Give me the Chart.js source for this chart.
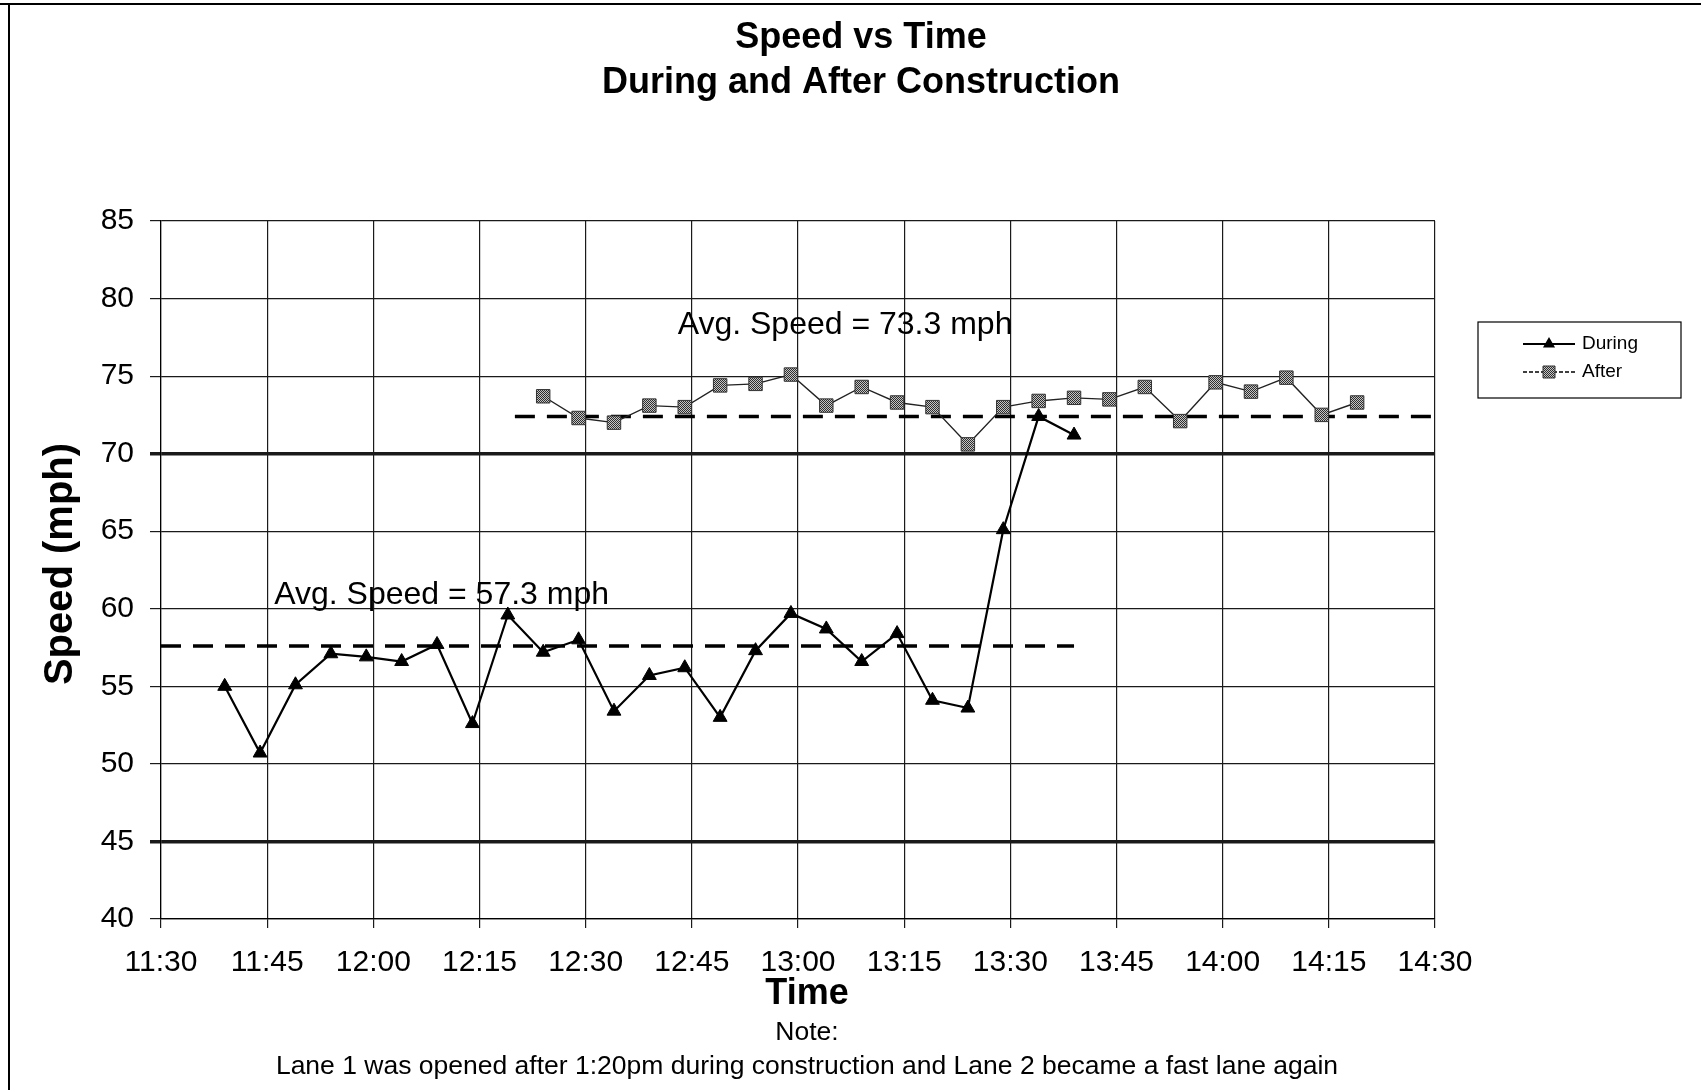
<!DOCTYPE html>
<html>
<head>
<meta charset="utf-8">
<title>Speed vs Time</title>
<script src="https://cdn.jsdelivr.net/npm/chart.js@4.4.1/dist/chart.umd.min.js"></script>
<style>
  html, body { margin: 0; padding: 0; background: #fff; }
  #wrap { width: 1701px; height: 1090px; }
</style>
</head>
<body>
<div id="wrap"><canvas id="speedChart" width="1701" height="1090"></canvas></div>
<script>
// Speeds (mph), one reading every 5 minutes
const duringTimes = ['11:39', '11:44', '11:49', '11:54', '11:59', '12:04', '12:09', '12:14', '12:19',
  '12:24', '12:29', '12:34', '12:39', '12:44', '12:49', '12:54', '12:59', '13:04', '13:09', '13:14',
  '13:19', '13:24', '13:29', '13:34', '13:39'];
const duringSpeeds = [55.0, 50.7, 55.1, 57.1, 56.9, 56.6, 57.7, 52.6, 59.6,
  57.2, 58.0, 53.4, 55.7, 56.2, 53.0, 57.3, 59.7, 58.7, 56.6, 58.4,
  54.1, 53.6, 65.1, 72.4, 71.2];

const afterTimes = ['12:24', '12:29', '12:34', '12:39', '12:44', '12:49', '12:54', '12:59', '13:04',
  '13:09', '13:14', '13:19', '13:24', '13:29', '13:34', '13:39', '13:44', '13:49', '13:54', '13:59',
  '14:04', '14:09', '14:14', '14:19'];
const afterSpeeds = [73.7, 72.3, 72.0, 73.1, 73.0, 74.4, 74.5, 75.1, 73.1,
  74.3, 73.3, 73.0, 70.6, 73.0, 73.4, 73.6, 73.5, 74.3, 72.1, 74.6,
  74.0, 74.9, 72.5, 73.3];

// dashed average lines (level as drawn) and their text
const avgDuring = 57.6;
const avgDuringSpan = ['11:30', '13:39'];
const avgAfter = 72.4;
const avgAfterSpan = ['12:20', '14:30'];
const avgLabels = ['Avg. Speed = 57.3 mph', 'Avg. Speed = 73.3 mph'];
const avgLabelTimes = ['11:46', '12:43'];
const avgLabelSpeeds = [60.9, 78.3];

// axes
const timeRange = ['11:30', '14:30'];
const timeStep = 15;
const speedRange = [40, 85];
const speedStep = 5;
const heavyLines = [70, 45];

const titleLines = ['Speed vs Time', 'During and After Construction'];
const xTitle = 'Time';
const yTitle = 'Speed (mph)';
const noteLines = ['Note:', 'Lane 1 was opened after 1:20pm during construction and Lane 2 became a fast lane again'];

const FONT = "'Liberation Sans', Arial, Helvetica, sans-serif";

function toMin(s) {
  const [h, m] = s.split(':').map(Number);
  return h * 60 + m;
}
function fmtTime(v) {
  return Math.floor(v / 60) + ':' + String(v % 60).padStart(2, '0');
}
function pairs(times, speeds) {
  return times.map((t, i) => ({ x: toMin(t), y: speeds[i] }));
}

// grey dithered fill like the scanned square markers
function ditherFill() {
  const c = document.createElement('canvas');
  c.width = 2; c.height = 2;
  const g = c.getContext('2d');
  g.fillStyle = '#c4c4c4'; g.fillRect(0, 0, 2, 2);
  g.fillStyle = '#2e2e2e'; g.fillRect(0, 0, 1, 1); g.fillRect(1, 1, 1, 1);
  return g.createPattern(c, 'repeat');
}
const squareFill = ditherFill();

// title, axis titles, notes, avg texts, frame
const textPlugin = {
  id: 'texts',
  afterDraw(chart) {
    const ctx = chart.ctx;
    const { x, y } = chart.scales;
    const area = chart.chartArea;
    ctx.save();
    ctx.fillStyle = '#000';

    // frame of the chart object (top + left edges survive in the scan)
    ctx.strokeStyle = '#000';
    ctx.lineWidth = 2;
    ctx.beginPath();
    ctx.moveTo(0, 4); ctx.lineTo(chart.width, 4);
    ctx.moveTo(9, 4); ctx.lineTo(9, chart.height);
    ctx.stroke();

    ctx.textAlign = 'center';
    ctx.textBaseline = 'middle';
    ctx.font = 'bold 36px ' + FONT;
    ctx.fillText(titleLines[0], 861, 38);
    ctx.fillText(titleLines[1], 861, 83);

    const cx = (area.left + area.right) / 2 + 9;
    ctx.fillText(xTitle, cx, 994);

    ctx.save();
    ctx.translate(61, 564);
    ctx.rotate(-Math.PI / 2);
    ctx.font = 'bold 40px ' + FONT;
    ctx.fillText(yTitle, 0, 0);
    ctx.restore();

    ctx.font = '26.5px ' + FONT;
    ctx.fillText(noteLines[0], cx, 1033);
    ctx.fillText(noteLines[1], cx, 1067);

    ctx.textAlign = 'left';
    ctx.font = '32px ' + FONT;
    avgLabels.forEach((txt, i) => {
      ctx.fillText(txt, x.getPixelForValue(toMin(avgLabelTimes[i])), y.getPixelForValue(avgLabelSpeeds[i]));
    });
    ctx.restore();
  }
};

// boxed legend to the right of the plot
const legendPlugin = {
  id: 'legendBox',
  afterDraw(chart) {
    const ctx = chart.ctx;
    const bx = 1478, by = 322, bw = 203, bh = 76;
    ctx.save();
    ctx.strokeStyle = '#000';
    ctx.lineWidth = 1.2;
    ctx.strokeRect(bx, by, bw, bh);
    ctx.font = '19px ' + FONT;
    ctx.textBaseline = 'middle';
    ctx.textAlign = 'left';
    ctx.fillStyle = '#000';

    const rows = [
      { ds: chart.data.datasets[0], yy: 344, dash: [] },
      { ds: chart.data.datasets[1], yy: 372, dash: [4, 2] }
    ];
    rows.forEach(r => {
      ctx.strokeStyle = '#000';
      ctx.lineWidth = r.ds.borderWidth;
      ctx.setLineDash(r.dash);
      ctx.beginPath();
      ctx.moveTo(1523, r.yy); ctx.lineTo(1575, r.yy);
      ctx.stroke();
      ctx.setLineDash([]);
      ctx.beginPath();
      if (r.ds.pointStyle === 'triangle') {
        const rr = 7;
        ctx.moveTo(1549, r.yy - rr);
        ctx.lineTo(1549 + rr * 0.866, r.yy + rr / 2);
        ctx.lineTo(1549 - rr * 0.866, r.yy + rr / 2);
        ctx.closePath();
        ctx.fillStyle = '#000';
        ctx.fill();
      } else {
        ctx.rect(1543, r.yy - 6, 12, 12);
        ctx.fillStyle = r.ds.pointBackgroundColor;
        ctx.fill();
        ctx.lineWidth = 1;
        ctx.strokeStyle = '#333';
        ctx.stroke();
      }
      ctx.fillStyle = '#000';
      ctx.fillText(r.ds.label, 1582, r.yy);
    });
    ctx.restore();
  }
};

new Chart(document.getElementById('speedChart'), {
  type: 'line',
  data: {
    datasets: [
      {
        label: 'During',
        data: pairs(duringTimes, duringSpeeds),
        borderColor: '#000',
        borderWidth: 2.2,
        pointStyle: 'triangle',
        pointRadius: 8,
        pointBackgroundColor: '#000',
        pointBorderColor: '#000',
        pointBorderWidth: 1,
        tension: 0,
        order: 1
      },
      {
        label: 'After',
        data: pairs(afterTimes, afterSpeeds),
        borderColor: '#222',
        borderWidth: 1.4,
        pointStyle: 'rect',
        pointRadius: 9.5,
        pointBackgroundColor: squareFill,
        pointBorderColor: '#333',
        pointBorderWidth: 1,
        tension: 0,
        order: 2
      },
      {
        label: 'avgDuring',
        data: avgDuringSpan.map(t => ({ x: toMin(t), y: avgDuring })),
        borderColor: '#000',
        borderWidth: 3.5,
        borderDash: [20, 12],
        pointRadius: 0,
        order: 3
      },
      {
        label: 'avgAfter',
        data: avgAfterSpan.map(t => ({ x: toMin(t), y: avgAfter })),
        borderColor: '#000',
        borderWidth: 3.5,
        borderDash: [20, 12],
        pointRadius: 0,
        order: 3
      }
    ]
  },
  options: {
    responsive: false,
    devicePixelRatio: 1,
    animation: false,
    layout: { padding: { top: 221, left: 0, right: 266, bottom: 81 } },
    plugins: {
      legend: { display: false },
      title: { display: false },
      tooltip: { enabled: false }
    },
    scales: {
      x: {
        type: 'linear',
        min: toMin(timeRange[0]),
        max: toMin(timeRange[1]),
        afterFit: s => { s.height = 90; },
        ticks: {
          stepSize: timeStep,
          color: '#000',
          padding: 17,
          maxRotation: 0,
          font: { family: FONT, size: 30 },
          callback: v => fmtTime(v)
        },
        grid: { color: '#1a1a1a', lineWidth: 1.2, tickLength: 9 },
        border: { color: '#000', width: 1.2 }
      },
      y: {
        min: speedRange[0],
        max: speedRange[1],
        afterFit: s => { s.width = 161; },
        ticks: {
          stepSize: speedStep,
          color: '#000',
          padding: 16,
          font: { family: FONT, size: 30 }
        },
        grid: {
          color: '#1a1a1a',
          tickLength: 11,
          lineWidth: c => heavyLines.includes(c.tick && c.tick.value) ? 3.5 : 1.2
        },
        border: { color: '#000', width: 1.2 }
      }
    }
  },
  plugins: [textPlugin, legendPlugin]
});
</script>
</body>
</html>
